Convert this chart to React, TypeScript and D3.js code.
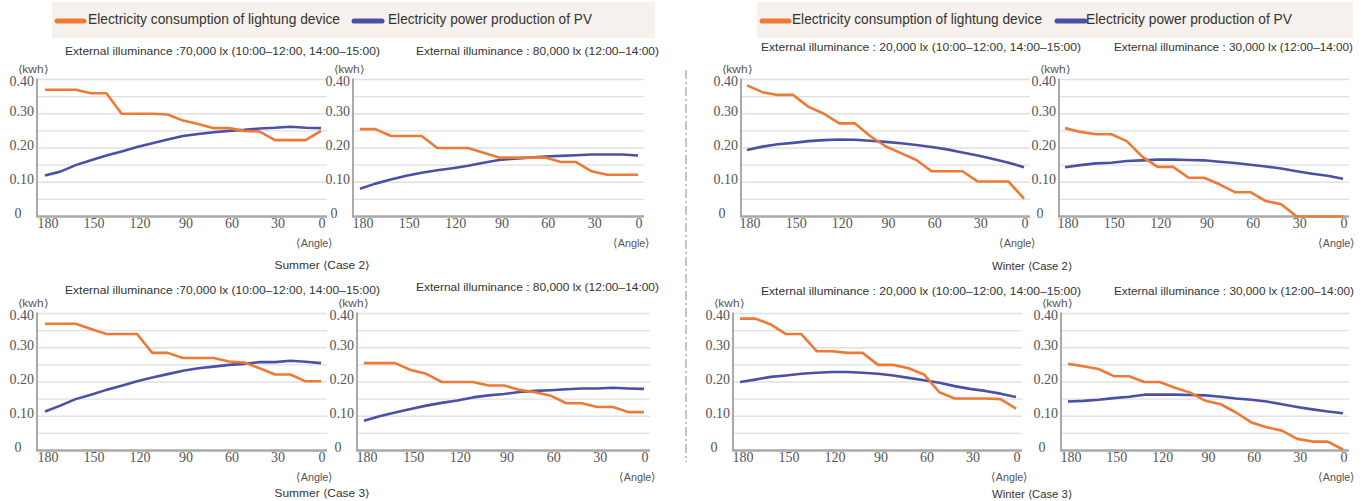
import React from "react";
import * as d3 from "d3";

// angle steps along the x axis (read right to left, 180 -> 0)
const angles = [180, 170, 160, 150, 140, 130, 120, 110, 100, 90, 80, 70, 60, 50, 40, 30, 20, 10, 0];
const angleTicks = [180, 150, 120, 90, 60, 30, 0];
const kwhTicks = [0, 0.1, 0.2, 0.3, 0.4];
const gridValues = [0.05, 0.1, 0.15, 0.2, 0.25, 0.3, 0.35, 0.4];

// Summer (Case 2)
const summer2Lux70Lighting = [0.37, 0.37, 0.37, 0.36, 0.36, 0.3, 0.3, 0.3, 0.298, 0.28, 0.27, 0.258, 0.258, 0.25, 0.248, 0.223, 0.223, 0.223, 0.25];
const summer2Lux70Pv = [0.12, 0.131, 0.15, 0.164, 0.178, 0.19, 0.203, 0.214, 0.225, 0.235, 0.241, 0.246, 0.25, 0.253, 0.257, 0.259, 0.262, 0.259, 0.258];
const summer2Lux80Lighting = [0.255, 0.255, 0.235, 0.235, 0.235, 0.2, 0.2, 0.2, 0.186, 0.172, 0.172, 0.172, 0.172, 0.159, 0.159, 0.132, 0.122, 0.122, 0.122];
const summer2Lux80Pv = [0.081, 0.096, 0.108, 0.119, 0.128, 0.135, 0.141, 0.148, 0.157, 0.165, 0.169, 0.172, 0.175, 0.177, 0.179, 0.181, 0.181, 0.181, 0.178];

// Winter (Case 2)
const winter2Lux20Lighting = [0.383, 0.363, 0.355, 0.355, 0.32, 0.3, 0.272, 0.272, 0.235, 0.205, 0.185, 0.165, 0.132, 0.132, 0.132, 0.102, 0.102, 0.102, 0.052];
const winter2Lux20Pv = [0.194, 0.204, 0.211, 0.215, 0.22, 0.223, 0.225, 0.224, 0.221, 0.218, 0.214, 0.209, 0.203, 0.196, 0.187, 0.178, 0.168, 0.157, 0.144];
const winter2Lux30Lighting = [0.258, 0.247, 0.24, 0.24, 0.22, 0.175, 0.145, 0.145, 0.113, 0.113, 0.094, 0.071, 0.071, 0.045, 0.036, 0, 0, 0, 0];
const winter2Lux30Pv = [0.144, 0.15, 0.155, 0.157, 0.162, 0.164, 0.166, 0.166, 0.165, 0.164, 0.16, 0.156, 0.151, 0.146, 0.14, 0.132, 0.125, 0.119, 0.11];

// Summer (Case 3)
const summer3Lux70Lighting = [0.37, 0.37, 0.37, 0.355, 0.34, 0.34, 0.34, 0.285, 0.285, 0.27, 0.27, 0.27, 0.26, 0.257, 0.24, 0.222, 0.222, 0.202, 0.202];
const summer3Lux70Pv = [0.114, 0.131, 0.15, 0.163, 0.177, 0.189, 0.202, 0.213, 0.223, 0.233, 0.24, 0.245, 0.25, 0.253, 0.258, 0.258, 0.262, 0.259, 0.255];
const summer3Lux80Lighting = [0.255, 0.255, 0.255, 0.235, 0.224, 0.2, 0.2, 0.2, 0.19, 0.19, 0.177, 0.17, 0.16, 0.138, 0.138, 0.127, 0.127, 0.112, 0.112];
const summer3Lux80Pv = [0.087, 0.1, 0.111, 0.121, 0.131, 0.139, 0.146, 0.155, 0.161, 0.165, 0.171, 0.174, 0.176, 0.179, 0.181, 0.181, 0.183, 0.181, 0.18];

// Winter (Case 3)
const winter3Lux20Lighting = [0.385, 0.385, 0.368, 0.34, 0.34, 0.29, 0.29, 0.285, 0.285, 0.25, 0.25, 0.24, 0.222, 0.17, 0.152, 0.152, 0.152, 0.15, 0.122];
const winter3Lux20Pv = [0.2, 0.207, 0.215, 0.219, 0.224, 0.227, 0.229, 0.229, 0.227, 0.224, 0.219, 0.212, 0.205, 0.198, 0.188, 0.18, 0.174, 0.166, 0.156];
const winter3Lux30Lighting = [0.253, 0.246, 0.238, 0.217, 0.217, 0.2, 0.2, 0.183, 0.169, 0.145, 0.135, 0.111, 0.082, 0.068, 0.058, 0.034, 0.026, 0.026, 0.003];
const winter3Lux30Pv = [0.143, 0.145, 0.148, 0.153, 0.157, 0.163, 0.163, 0.163, 0.162, 0.161, 0.157, 0.152, 0.148, 0.143, 0.135, 0.127, 0.12, 0.114, 0.109];

const titleA70 = "External illuminance :70,000 lx (10:00\u201312:00, 14:00\u201315:00)";
const titleA80 = "External illuminance : 80,000 lx (12:00\u201314:00)";
const titleW20 = "External illuminance : 20,000 lx (10:00\u201312:00, 14:00\u201315:00)";
const titleW30 = "External illuminance : 30,000 lx (12:00\u201314:00)";
const legendLighting = "Electricity consumption of lightung device";
const legendPv = "Electricity power production of PV";

const ORANGE = "#ec7a34";
const BLUE = "#4b50a6";
const GRID = "#e0e0e0";
const AXIS = "#a9a9a9";
const LABEL = "#555555";
const SANS = "'Liberation Sans', Arial, sans-serif";
const SERIF = "'Liberation Serif', 'DejaVu Serif', serif";

function Panel(props) {
  const { axisX, x0, x1, top, bottom, title, titleX, titleW, titleY, lighting, pv } = props;
  const x = d3.scaleLinear().domain([180, 0]).range([x0, x1]);
  const y = d3.scaleLinear().domain([0, 0.4]).range([bottom, top]);
  const line = d3
    .line()
    .x((d) => x(d[0]))
    .y((d) => y(d[1]));
  const gridRight = x1 + 6;

  return (
    <g>
      <text x={titleX} y={titleY} fontFamily={SANS} fontSize={11.5} fill="#333" textLength={titleW} lengthAdjust="spacingAndGlyphs" dominantBaseline="middle">
        {title}
      </text>
      <text x={axisX - 4} y={top - 9} fontFamily={SANS} fontSize={11} fill={LABEL} textAnchor="middle" textLength={30} lengthAdjust="spacingAndGlyphs" dominantBaseline="middle">
        {"\u27e8kwh\u27e9"}
      </text>
      {gridValues.map((v) => (
        <line key={v} x1={axisX} x2={gridRight} y1={y(v)} y2={y(v)} stroke={GRID} strokeWidth={1.3} />
      ))}
      <line x1={axisX} x2={axisX} y1={top - 1} y2={bottom} stroke={AXIS} strokeWidth={2} />
      <line x1={axisX - 1} x2={gridRight} y1={bottom} y2={bottom} stroke={AXIS} strokeWidth={2.5} />
      {kwhTicks.map((v) =>
        v === 0 ? (
          <text key={v} x={axisX - 19} y={y(v) - 2} fontFamily={SERIF} fontSize={14} fill={LABEL} textAnchor="middle" dominantBaseline="middle">
            0
          </text>
        ) : (
          <text key={v} x={axisX - 3} y={y(v) + (v === 0.4 ? 3 : -1)} fontFamily={SERIF} fontSize={14} fill={LABEL} textAnchor="end" dominantBaseline="middle">
            {d3.format(".2f")(v)}
          </text>
        )
      )}
      {angleTicks.map((a) => (
        <text key={a} x={x(a) + (a === 0 ? 1 : 3)} y={bottom + 8} fontFamily={SERIF} fontSize={14} fill={LABEL} textAnchor="middle" dominantBaseline="middle">
          {a}
        </text>
      ))}
      <text x={x1 + 12} y={bottom + 27} fontFamily={SANS} fontSize={11.5} fill={LABEL} textAnchor="end" textLength={37} lengthAdjust="spacingAndGlyphs" dominantBaseline="middle">
        {"\u27e8Angle\u27e9"}
      </text>
      <path d={line(angles.map((a, i) => [a, pv[i]]))} fill="none" stroke={BLUE} strokeWidth={2.6} strokeLinejoin="round" />
      <path d={line(angles.map((a, i) => [a, lighting[i]]))} fill="none" stroke={ORANGE} strokeWidth={2.6} strokeLinejoin="round" />
    </g>
  );
}

function Legend({ left, right, orangeX, orangeTextX, orangeTextW, blueX, blueTextX, blueTextW }) {
  return (
    <g>
      <rect x={left} y={2} width={right - left} height={36} fill="#f6f1ec" />
      <line x1={orangeX} x2={orangeX + 27} y1={21} y2={21} stroke={ORANGE} strokeWidth={5} strokeLinecap="round" />
      <text x={orangeTextX} y={20} fontFamily={SANS} fontSize={14.5} fill="#333" textLength={orangeTextW} lengthAdjust="spacingAndGlyphs" dominantBaseline="middle">
        {legendLighting}
      </text>
      <line x1={blueX} x2={blueX + 28} y1={21} y2={21} stroke={BLUE} strokeWidth={5} strokeLinecap="round" />
      <text x={blueTextX} y={20} fontFamily={SANS} fontSize={14.5} fill="#333" textLength={blueTextW} lengthAdjust="spacingAndGlyphs" dominantBaseline="middle">
        {legendPv}
      </text>
    </g>
  );
}

function Caption({ cx, y, text, w }) {
  return (
    <text x={cx} y={y} fontFamily={SANS} fontSize={11} fill="#333" textAnchor="middle" textLength={w} lengthAdjust="spacingAndGlyphs" dominantBaseline="middle">
      {text}
    </text>
  );
}

export default function App() {
  const topRow = { top: 79.5, bottom: 216.5 };
  const botRow = { top: 313.5, bottom: 450.5 };
  return (
    <svg width={1367} height={501} style={{ position: "absolute", left: 0, top: 0, background: "#fff" }}>
      <Legend left={52} right={655} orangeX={57} orangeTextX={88} orangeTextW={252} blueX={354} blueTextX={388} blueTextW={204} />
      <Legend left={757} right={1353} orangeX={762} orangeTextX={792} orangeTextW={250} blueX={1057} blueTextX={1086} blueTextW={206} />

      <Panel {...topRow} axisX={37} x0={45} x1={321} title={titleA70} titleX={65} titleW={315} titleY={52} lighting={summer2Lux70Lighting} pv={summer2Lux70Pv} />
      <Panel {...topRow} axisX={353} x0={360} x1={638} title={titleA80} titleX={416} titleW={243} titleY={52} lighting={summer2Lux80Lighting} pv={summer2Lux80Pv} />
      <Panel {...topRow} axisX={741} x0={747} x1={1024} title={titleW20} titleX={761} titleW={320} titleY={48} lighting={winter2Lux20Lighting} pv={winter2Lux20Pv} />
      <Panel {...topRow} axisX={1059} x0={1065} x1={1343} title={titleW30} titleX={1114} titleW={239} titleY={48} lighting={winter2Lux30Lighting} pv={winter2Lux30Pv} />

      <Panel {...botRow} axisX={37} x0={45} x1={321} title={titleA70} titleX={65} titleW={315} titleY={291} lighting={summer3Lux70Lighting} pv={summer3Lux70Pv} />
      <Panel {...botRow} axisX={357} x0={364} x1={644} title={titleA80} titleX={416} titleW={243} titleY={288} lighting={summer3Lux80Lighting} pv={summer3Lux80Pv} />
      <Panel {...botRow} axisX={733} x0={740} x1={1016} title={titleW20} titleX={761} titleW={320} titleY={292} lighting={winter3Lux20Lighting} pv={winter3Lux20Pv} />
      <Panel {...botRow} axisX={1061} x0={1068} x1={1343} title={titleW30} titleX={1114} titleW={240} titleY={292} lighting={winter3Lux30Lighting} pv={winter3Lux30Pv} />

      <Caption cx={322} y={266} text={"Summer \u27e8Case 2\u27e9"} w={95} />
      <Caption cx={322} y={494} text={"Summer \u27e8Case 3\u27e9"} w={95} />
      <Caption cx={1032} y={267} text={"Winter \u27e8Case 2\u27e9"} w={80} />
      <Caption cx={1032} y={495} text={"Winter \u27e8Case 3\u27e9"} w={80} />

      <line x1={686} x2={686} y1={70} y2={462} stroke="#8a8a8a" strokeWidth={1} strokeDasharray="9 3 2 3" />
    </svg>
  );
}
